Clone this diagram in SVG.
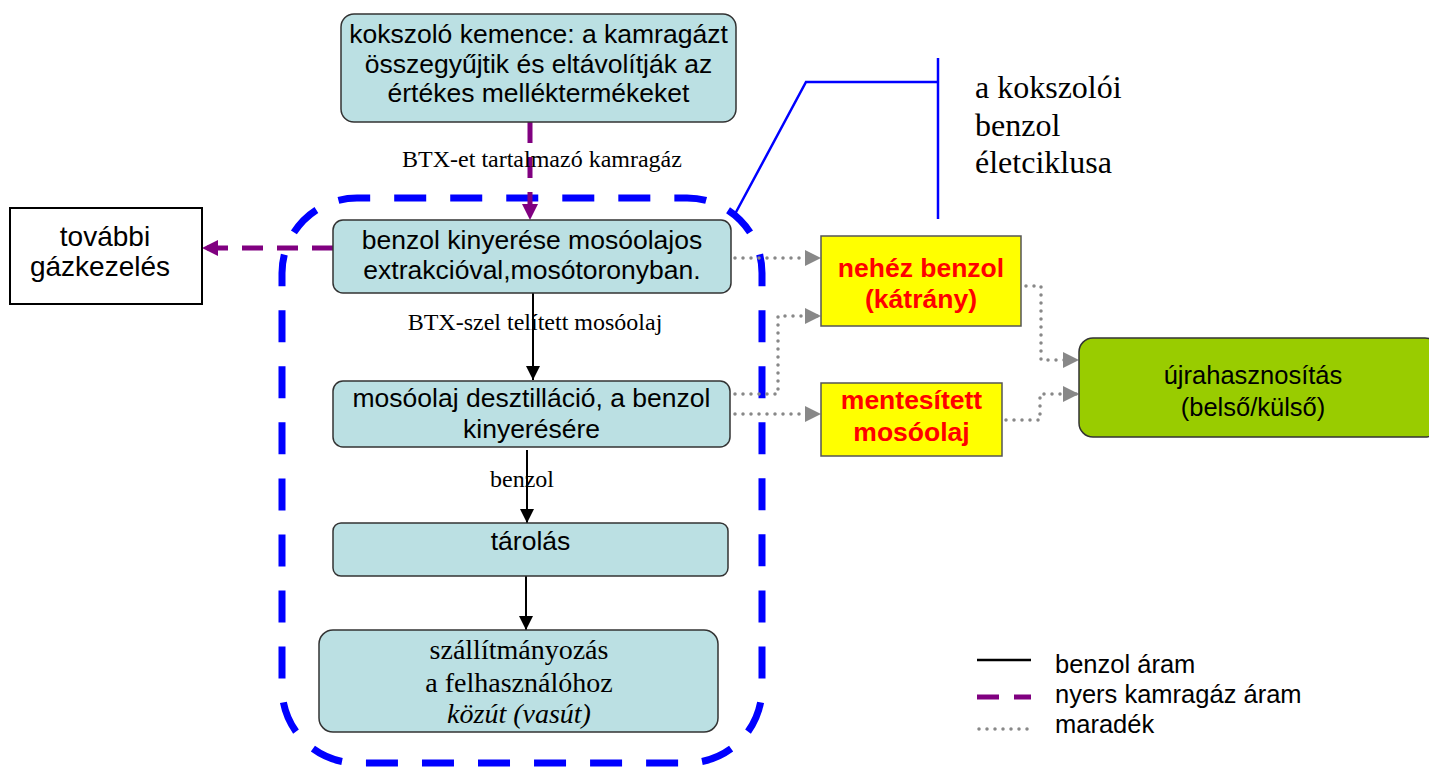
<svg xmlns="http://www.w3.org/2000/svg" width="1429" height="767" viewBox="0 0 1429 767">
<style>
.box{fill:#BBE0E3;stroke:#333;stroke-width:1.5}
.yel{fill:#FFFF00;stroke:#555;stroke-width:1.5}
.grn{fill:#99CC00;stroke:#333;stroke-width:1.5}
.wht{fill:#fff;stroke:#000;stroke-width:2}
.sans{font-family:"Liberation Sans",Arial,sans-serif;font-size:26.5px;fill:#000;text-anchor:middle}
.red{font-family:"Liberation Sans",Arial,sans-serif;font-size:26.5px;font-weight:bold;fill:#FF0000;text-anchor:middle}
.serif{font-family:"Liberation Serif","Times New Roman",serif;fill:#000;text-anchor:middle}
.leg{font-family:"Liberation Sans",Arial,sans-serif;font-size:25.5px;fill:#000}
.blk{stroke:#000;stroke-width:2;fill:none}
.pur{stroke:#800080;stroke-width:5;fill:none;stroke-dasharray:21 14}
.dot{stroke:#888;stroke-width:3.5;fill:none;stroke-dasharray:0 8;stroke-linecap:round}
</style>
<defs>
<marker id="ab" markerUnits="userSpaceOnUse" markerWidth="14" markerHeight="14" refX="14" refY="7" orient="auto"><path d="M0,0 L14,7 L0,14 z" fill="#000"/></marker>
<marker id="ap" markerUnits="userSpaceOnUse" markerWidth="16" markerHeight="16" refX="16" refY="8" orient="auto"><path d="M0,0 L16,8 L0,16 z" fill="#800080"/></marker>
<marker id="ag" markerUnits="userSpaceOnUse" markerWidth="16" markerHeight="16" refX="16" refY="8" orient="auto"><path d="M0,0 L16,8 L0,16 z" fill="#888"/></marker>
</defs>

<g id="lifecycle-boundary">
<path d="M740.03,219.97 A75,75 0 0 1 762,273 L762,688 A75,75 0 0 1 687,763 L357,763 A75,75 0 0 1 282,688 L282,273 A75,75 0 0 1 357,198 L687,198 A75,75 0 0 1 740.03,219.97 Z" fill="none" stroke="#0000FF" stroke-width="7" stroke-dasharray="32 24.03" stroke-dashoffset="16"/>
<polyline points="735,214 806,82 938,82" fill="none" stroke="#0000FF" stroke-width="2.5"/>
<line x1="938" y1="58" x2="938" y2="219" stroke="#0000FF" stroke-width="2.5"/>
<text class="serif" style="font-size:32px;text-anchor:start" x="975" y="98">a kokszolói</text>
<text class="serif" style="font-size:32px;text-anchor:start" x="975" y="136">benzol</text>
<text class="serif" style="font-size:32px;text-anchor:start" x="975" y="173">életciklusa</text>
</g>

<g id="connectors">
<line class="pur" x1="530" y1="122" x2="530" y2="220" marker-end="url(#ap)"/>
<line class="pur" x1="333" y1="248" x2="202" y2="248" marker-end="url(#ap)"/>
<line class="blk" x1="533" y1="293" x2="533" y2="380" marker-end="url(#ab)"/>
<line class="blk" x1="527" y1="450" x2="527" y2="523" marker-end="url(#ab)"/>
<line class="blk" x1="526" y1="576" x2="526" y2="630" marker-end="url(#ab)"/>
<line class="dot" x1="735" y1="258" x2="821" y2="258" marker-end="url(#ag)"/>
<polyline class="dot" points="735,394 778,394 778,316 821,316" marker-end="url(#ag)"/>
<line class="dot" x1="735" y1="414" x2="821" y2="414" marker-end="url(#ag)"/>
<polyline class="dot" points="1026,286 1041,286 1041,360 1079,360" marker-end="url(#ag)"/>
<polyline class="dot" points="1006,420 1040,420 1040,394 1079,394" marker-end="url(#ag)"/>
<text class="serif" style="font-size:24px" x="542" y="167">BTX-et tartalmazó kamragáz</text>
<text class="serif" style="font-size:24px" x="535" y="330">BTX-szel telített mosóolaj</text>
<text class="serif" style="font-size:24px" x="522" y="487">benzol</text>
</g>

<g id="node-kemence">
<rect class="box" x="341" y="14" width="395" height="108" rx="13"/>
<text class="sans" x="538.5" y="43">kokszoló kemence: a kamragázt</text>
<text class="sans" x="538.5" y="73">összegyűjtik és eltávolítják az</text>
<text class="sans" x="538.5" y="102">értékes melléktermékeket</text>
</g>

<g id="node-gazkezeles">
<rect class="wht" x="10" y="208" width="192" height="96"/>
<text class="sans" style="font-size:28px" x="105" y="246">további</text>
<text class="sans" style="font-size:28px" x="100" y="276">gázkezelés</text>
</g>

<g id="node-kinyeres">
<rect class="box" x="333" y="220" width="398" height="73" rx="10"/>
<text class="sans" x="532" y="249">benzol kinyerése mosóolajos</text>
<text class="sans" x="532" y="279">extrakcióval,mosótoronyban.</text>
</g>

<g id="node-desztillacio">
<rect class="box" x="333" y="381" width="397" height="66" rx="10"/>
<text class="sans" x="531.5" y="407">mosóolaj desztilláció, a benzol</text>
<text class="sans" x="531.5" y="438">kinyerésére</text>
</g>

<g id="node-tarolas">
<rect class="box" x="333" y="523" width="395" height="53" rx="8"/>
<text class="sans" x="530.5" y="550">tárolás</text>
</g>

<g id="node-szallitmanyozas">
<rect class="box" x="319" y="630" width="399" height="102" rx="14"/>
<text class="serif" style="font-size:28px" x="519" y="659">szállítmányozás</text>
<text class="serif" style="font-size:28px" x="519" y="692">a felhasználóhoz</text>
<text class="serif" style="font-size:28px;font-style:italic" x="519" y="723">közút (vasút)</text>
</g>

<g id="node-nehez-benzol">
<rect class="yel" x="821" y="236" width="200" height="90"/>
<text class="red" x="921" y="277">nehéz benzol</text>
<text class="red" x="921" y="308">(kátrány)</text>
</g>

<g id="node-mentesitett">
<rect class="yel" x="821" y="383" width="181" height="73"/>
<text class="red" x="911.5" y="409">mentesített</text>
<text class="red" x="911.5" y="441">mosóolaj</text>
</g>

<g id="node-ujrahasznositas">
<rect class="grn" x="1079" y="338" width="360" height="99" rx="14"/>
<text class="sans" style="font-size:25.5px" x="1253" y="384">újrahasznosítás</text>
<text class="sans" style="font-size:25.5px" x="1253" y="416">(belső/külső)</text>
</g>

<g id="legend">
<line x1="977" y1="660" x2="1031" y2="660" stroke="#000" stroke-width="2.5"/>
<line x1="977" y1="697" x2="1031" y2="697" stroke="#800080" stroke-width="5" stroke-dasharray="22 15"/>
<line x1="979" y1="729" x2="1031" y2="729" class="dot"/>
<text class="leg" x="1055" y="673">benzol áram</text>
<text class="leg" x="1055" y="703">nyers kamragáz áram</text>
<text class="leg" x="1055" y="733">maradék</text>
</g>
</svg>
